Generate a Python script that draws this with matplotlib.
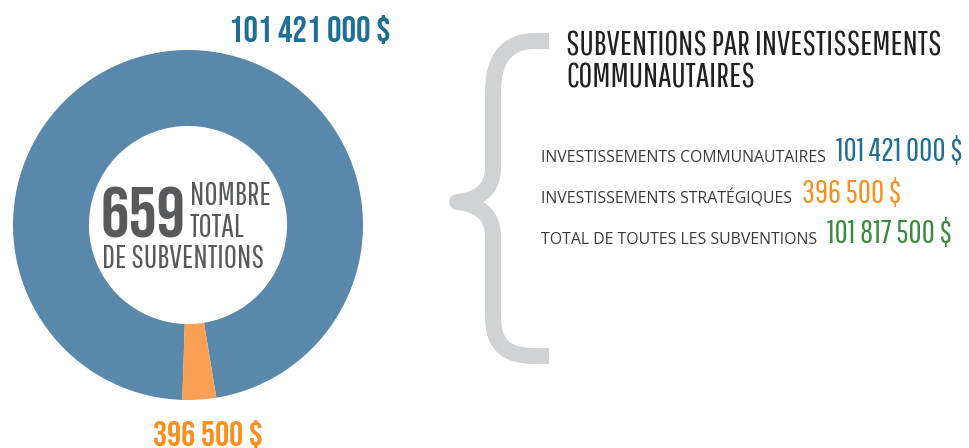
import matplotlib
matplotlib.use("Agg")
import matplotlib.pyplot as plt
from matplotlib.path import Path
from matplotlib.patches import PathPatch

# ---------------- data ----------------
categories = ["Investissements communautaires", "Investissements stratégiques"]
amount_labels = ["101 421 000 $", "396 500 $"]
total_label = "101 817 500 $"
# wedge shares as drawn in the reference donut (percent of the ring)
wedge_share = [96.9, 3.1]
grant_count = "659"

row_labels = ["INVESTISSEMENTS COMMUNAUTAIRES", "INVESTISSEMENTS STRATÉGIQUES",
              "TOTAL DE TOUTES LES SUBVENTIONS"]
row_values = ["101 421 000 $", "396 500 $", "101 817 500 $"]

# ---------------- style ----------------
ring_colors = ["#5A88AB", "#F9A055"]
value_colors = ["#1F6E96", "#F7901E", "#3A8A3F"]
gray_txt = "#58595B"
brace_col = "#D1D2D4"
BOLD = ["Bebas Neue", "Liberation Sans Narrow", "DejaVu Sans"]
LIGHT = ["Pathway Gothic One", "Bebas Neue", "Liberation Sans Narrow", "DejaVu Sans"]
SMALL = ["Open Sans", "DejaVu Sans"]

W, H = 969, 448
fig = plt.figure(figsize=(W / 100, H / 100), dpi=100)
fig.patch.set_facecolor("white")

# donut: centre (188, 225) px, outer radius 175 px
cx, cy, R = 188, 225, 175
ax = fig.add_axes([(cx - R) / W, (H - cy - R) / H, 2 * R / W, 2 * R / H])
ax.pie(wedge_share, colors=ring_colors, startangle=279.3, counterclock=True,
       radius=1.0, wedgeprops=dict(width=0.434, edgecolor="none"))
ax.set_xlim(-1, 1)
ax.set_ylim(-1, 1)
ax.set_aspect("equal")
ax.axis("off")

# overlay in pixel coordinates (y downwards)
ov = fig.add_axes([0, 0, 1, 1])
ov.set_xlim(0, W)
ov.set_ylim(H, 0)
ov.axis("off")
ov.patch.set_visible(False)

# donut amount labels
ov.text(310, 42, amount_labels[0], family=BOLD, fontsize=26, color=value_colors[0],
        ha="center", va="baseline")
ov.text(208, 446, amount_labels[1], family=BOLD, fontsize=25.5, color=value_colors[1],
        ha="center", va="baseline")

# centre text
ov.text(101, 237, grant_count, family=BOLD, fontsize=51, color=gray_txt,
        ha="left", va="baseline")
ov.text(190, 205, "NOMBRE", family=LIGHT, fontsize=23, color=gray_txt, va="baseline")
ov.text(190, 237, "TOTAL", family=LIGHT, fontsize=23, color=gray_txt, va="baseline")
ov.text(102, 268, "DE SUBVENTIONS", family=LIGHT, fontsize=23, color=gray_txt, va="baseline")

# brace
verts = [(549, 41), (535, 41),
         (506, 41), (493, 60), (493, 92),
         (493, 168),
         (493, 190), (478, 200), (457, 202),
         (478, 204), (493, 214), (493, 236),
         (493, 316),
         (493, 345), (506, 356), (535, 356),
         (549, 356)]
codes = [Path.MOVETO, Path.LINETO,
         Path.CURVE4, Path.CURVE4, Path.CURVE4,
         Path.LINETO,
         Path.CURVE4, Path.CURVE4, Path.CURVE4,
         Path.CURVE4, Path.CURVE4, Path.CURVE4,
         Path.LINETO,
         Path.CURVE4, Path.CURVE4, Path.CURVE4,
         Path.LINETO]
ov.add_patch(PathPatch(Path(verts, codes), facecolor="none", edgecolor=brace_col,
                       linewidth=11.5, capstyle="butt", joinstyle="round"))

# title
ov.text(566, 56, "SUBVENTIONS PAR INVESTISSEMENTS", family=LIGHT, fontsize=24.3,
        color="#231F20", va="baseline")
ov.text(566, 88, "COMMUNAUTAIRES", family=LIGHT, fontsize=24.3,
        color="#231F20", va="baseline")

# rows
fig.canvas.draw()
rend = fig.canvas.get_renderer()
baselines = [162, 204, 244]
for lab, val, col, yb in zip(row_labels, row_values, value_colors, baselines):
    t = ov.text(541, yb, lab, family=SMALL, fontsize=11.4, color="#3A3A3A", va="baseline")
    bb = t.get_window_extent(renderer=rend)
    ov.text(bb.x1 + 10, yb - 1, val, family=LIGHT, fontsize=23, color=col,
            va="baseline")

fig.savefig("out.png", dpi=100, facecolor="white")
